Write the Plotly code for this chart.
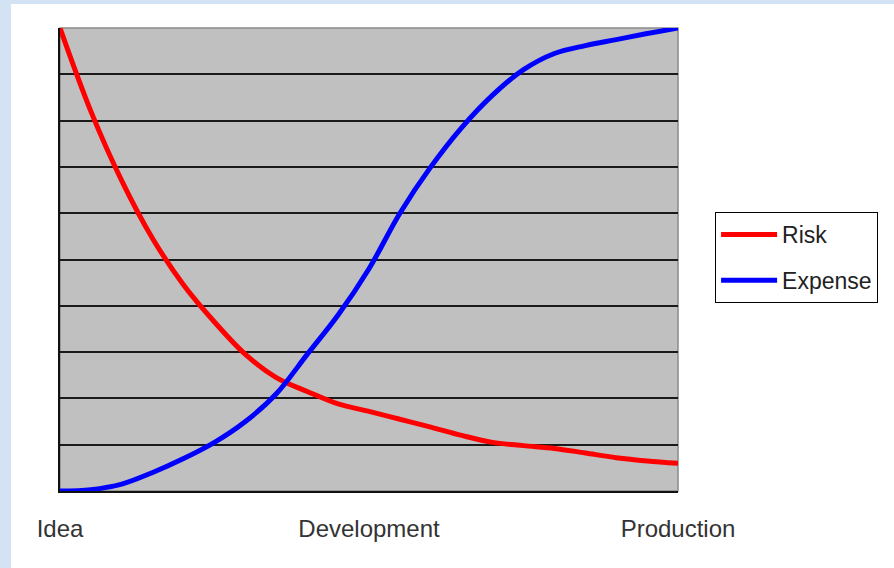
import plotly.graph_objects as go

# Project progress (% of the way from idea to production)
progress = [0, 5, 10, 15, 20, 25, 30, 35, 40, 45, 50,
            55, 60, 65, 70, 75, 80, 85, 90, 95, 100]

risk = [10, 8.2, 6.7, 5.45, 4.45, 3.65, 2.95, 2.45, 2.15, 1.88, 1.72,
        1.55, 1.38, 1.2, 1.05, 0.98, 0.92, 0.82, 0.72, 0.65, 0.6]

expense = [0, 0.03, 0.15, 0.4, 0.7, 1.05, 1.5, 2.1, 2.95, 3.8, 4.8,
           6.0, 7.0, 7.85, 8.55, 9.1, 9.45, 9.62, 9.75, 9.88, 10]

stage_pos = [0, 50, 100]
stage_labels = ["Idea", "Development", "Production"]

fig = go.Figure()
fig.add_trace(go.Scatter(x=progress, y=risk, name="Risk", mode="lines",
                         line=dict(color="#ff0000", width=5, shape="spline"),
                         legendgroup="r"))
fig.add_trace(go.Scatter(x=progress, y=expense, name="Expense", mode="lines",
                         line=dict(color="#0000ff", width=5, shape="spline"),
                         legendgroup="e"))

fig.update_layout(
    width=894, height=568,
    margin=dict(l=60, r=216, t=28, b=77),
    paper_bgcolor="white",
    plot_bgcolor="#c0c0c0",
    font=dict(family="Liberation Sans, Arial, sans-serif", color="#333333", size=24),
    showlegend=True,
    legend=dict(x=1.06, y=0.6026, xanchor="left", yanchor="top",
                bgcolor="white", bordercolor="black", borderwidth=1,
                font=dict(size=23, color="#222222"),
                itemwidth=56,
                tracegroupgap=13, traceorder="grouped"),
    xaxis=dict(range=[0, 100], tickvals=stage_pos, ticktext=stage_labels,
               showgrid=False, zeroline=False, showline=True,
               linecolor="#111111", linewidth=2, ticks="",
               ticklabelstandoff=15, fixedrange=True),
    yaxis=dict(range=[0, 10], tickvals=list(range(1, 10)), showticklabels=False,
               showgrid=True, gridcolor="#1a1a1a", gridwidth=2,
               zeroline=False, showline=True, linecolor="#111111", linewidth=2,
               ticks="", fixedrange=True),
    shapes=[
        # light blue slide border, left and top
        dict(type="rect", xref="paper", yref="paper", x0=-0.1, x1=-0.0793,
             y0=-0.2, y1=1.1, fillcolor="#d3e3f3", line=dict(width=0),
             layer="below"),
        dict(type="rect", xref="paper", yref="paper", x0=-0.1, x1=1.5,
             y0=1.0518, y1=1.1, fillcolor="#d3e3f3", line=dict(width=0),
             layer="below"),
        # plot-area frame (top and right edges)
        dict(type="rect", xref="paper", yref="paper", x0=0, x1=1, y0=0, y1=1,
             line=dict(color="#8a8a8a", width=1.5), layer="below"),
    ],
)

fig.write_html("out.html")
